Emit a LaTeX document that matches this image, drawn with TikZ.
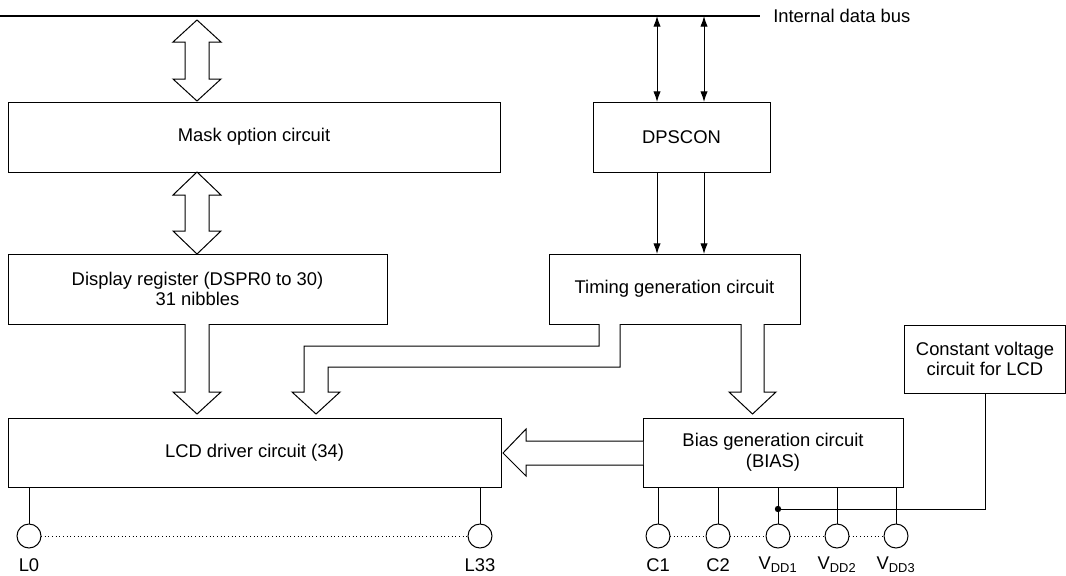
\documentclass[tikz,border=0pt]{standalone}
\usepackage{fontspec}
\setmainfont{Liberation Sans}
\usetikzlibrary{arrows.meta}

\begin{document}
\begin{tikzpicture}[x=0.75pt,y=0.75pt,yscale=-1,xscale=1,
  box/.style={draw, line width=0.75pt, inner sep=0pt, outer sep=0pt, align=center},
  pin/.style={draw, circle, line width=0.75pt, minimum size=18pt, inner sep=0pt, outer sep=0pt},
  hollow/.style={draw, line width=0.75pt, fill=white, line join=miter},
  sig/.style={line width=0.75pt, -{Latex[length=8pt,width=5.5pt]}},
  bidir/.style={line width=0.75pt, {Latex[length=8pt,width=5.5pt]}-{Latex[length=8pt,width=5.5pt]}},
  font=\fontsize{13.8}{15.5}\selectfont]
\useasboundingbox (0,0) rectangle (1066,575);

%Internal data bus
\coordinate (busL) at (0,16);
\coordinate (busR) at (760,16);
\draw[line width=1.5pt] (busL) -- (busR);
\node[anchor=west, inner sep=0pt] (buslbl) at (773,16) {Internal data bus};

%Blocks
\node[box, minimum width=369pt, minimum height=52.5pt] (mask) at (254,137) {Mask option circuit};
\node[box, minimum width=132.75pt, minimum height=52.5pt] (dps) at (681.5,137) {DPSCON};
\node[box, minimum width=284.25pt, minimum height=52.5pt] (dspr) at (197.5,289) {Display register (DSPR0 to 30)\\31 nibbles};
\node[box, minimum width=188.25pt, minimum height=52.5pt] (tim) at (674.5,289) {Timing generation circuit};
\node[box, minimum width=369.75pt, minimum height=51.75pt] (lcd) at (254.5,452.5) {LCD driver circuit (34)};
\node[box, minimum width=195pt, minimum height=51.75pt] (bias) at (773,452.5) {Bias generation circuit\\(BIAS)};
\node[box, minimum width=121pt, minimum height=51pt] (cvc) at (985,359) {Constant voltage\\circuit for LCD};

%Bus <-> DPSCON -> timing
\coordinate (b1) at (657,16);
\coordinate (b2) at (704,16);
\draw[bidir] (b1) -- (b1 |- dps.north);
\draw[bidir] (b2) -- (b2 |- dps.north);
\draw[sig] (b1 |- dps.south) -- (b1 |- tim.north);
\draw[sig] (b2 |- dps.south) -- (b2 |- tim.north);

%Hollow arrows
\draw[hollow] (197,20) -- (221,42) -- (209,42) -- (209,79) -- (221,79) -- (197,101) -- (173,79) -- (185,79) -- (185,42) -- (173,42) -- cycle ;
\draw[hollow] (197,172) -- (221,195) -- (209,195) -- (209,231) -- (221,231) -- (197,254) -- (173,231) -- (185,231) -- (185,195) -- (173,195) -- cycle ;
\draw[hollow] (185,324) -- (185,392) -- (173,392) -- (197,414) -- (221,392) -- (209,392) -- (209,324) ;
\draw[hollow] (741,324) -- (741,392) -- (729,392) -- (752.5,414) -- (776,392) -- (764,392) -- (764,324) ;
\draw[hollow] (599,324) -- (599,346) -- (304,346) -- (304,392) -- (292,392) -- (316,414) -- (340,392) -- (328,392) -- (328,367) -- (620,367) -- (620,324) ;
\draw[hollow] (643,441) -- (526,441) -- (526,429) -- (503,453) -- (526,476) -- (526,465) -- (643,465) ;

%LCD pins
\node[pin] (pL0) at (29,536) {};
\node[pin] (pL33) at (480,536) {};
\draw[line width=0.75pt] (pL0 |- lcd.south) -- (pL0);
\draw[line width=0.75pt] (pL33 |- lcd.south) -- (pL33);
\draw[dotted, line width=0.75pt] (pL0) -- (pL33);
\node (tL0) at (29,565) {L0};
\node (tL33) at (480,565) {L33};

%Bias pins
\node[pin] (pC1) at (658,536) {};
\node[pin] (pC2) at (718,536) {};
\node[pin] (pV1) at (778,536) {};
\node[pin] (pV2) at (837,536) {};
\node[pin] (pV3) at (896,536) {};
\foreach \p in {pC1,pC2,pV1,pV2,pV3}
  \draw[line width=0.75pt] (\p |- bias.south) -- (\p);
\draw[dotted, line width=0.75pt] (pC1) -- (pC2);
\draw[dotted, line width=0.75pt] (pC2) -- (pV1);
\draw[dotted, line width=0.75pt] (pV1) -- (pV2);
\draw[dotted, line width=0.75pt] (pV2) -- (pV3);
\node (tC1) at (658,565) {C1};
\node (tC2) at (718,565) {C2};
\node (tV1) at (778,565) {V\textsubscript{DD1}};
\node (tV2) at (837,565) {V\textsubscript{DD2}};
\node (tV3) at (896,565) {V\textsubscript{DD3}};

%Constant voltage supply to VDD1
\coordinate (jn) at (778,509);
\fill (jn) circle (3.2);
\draw[line width=0.75pt] (jn) -- (jn -| cvc.south) -- (cvc.south);

\end{tikzpicture}
\end{document}
